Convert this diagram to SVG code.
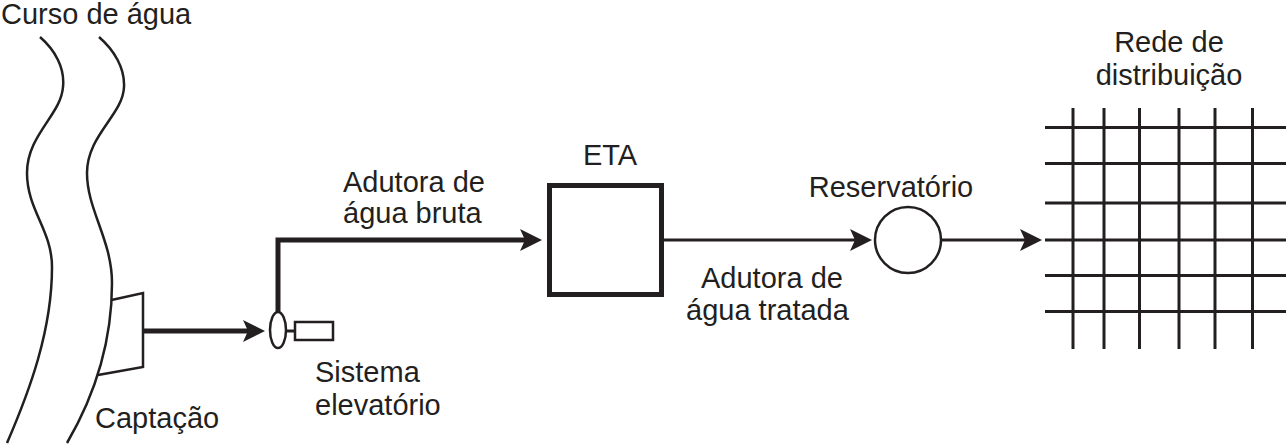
<svg xmlns="http://www.w3.org/2000/svg" width="1287" height="445" viewBox="0 0 1287 445">
<style>
text{font-family:"Liberation Sans",Arial,sans-serif;font-size:29px;fill:#231f20}
.ln{fill:none;stroke:#231f20;stroke-width:2.5}
.thick{fill:none;stroke:#231f20;stroke-width:5}
.thin{fill:none;stroke:#231f20;stroke-width:3}
.grid line{stroke:#231f20;stroke-width:3}
</style>
<defs>
<marker id="ah" markerUnits="userSpaceOnUse" markerWidth="22" markerHeight="22" refX="6" refY="11" orient="auto" viewBox="0 0 22 22">
<path d="M0,0 L22,11 L0,22 L5,11 z" fill="#231f20"/>
</marker>
</defs>
<rect width="1287" height="445" fill="#fff"/>
<g id="curso">
<path class="ln" d="M40,37 C55,50 65,68 63,87 C61,115 27,135 27,173 C27,210 52,230 52,267 C52,330 30,390 7,443"/>
<path class="ln" d="M99,37 C114,50 125,68 124,87 C123,115 87,135 87,173 C87,210 112,240 112,283 C112,340 95,395 67,443"/>
<text x="1" y="24">Curso de água</text>
</g>
<g id="captacao">
<polyline class="ln" points="111.5,300 143,293 143,367 98,375"/>
<text x="95" y="428">Captação</text>
</g>
<g id="elevatorio">
<ellipse class="ln" cx="278" cy="330" rx="8" ry="18" fill="#fff"/>
<line class="thin" x1="286" y1="331" x2="295" y2="331"/>
<rect class="ln" x="295" y="322" width="38" height="18" fill="#fff"/>
<text x="315" y="382">Sistema</text>
<text x="315" y="415">elevatório</text>
</g>
<g id="eta">
<rect x="549.5" y="185.5" width="112" height="109" fill="#fff" stroke="#231f20" stroke-width="5"/>
<text x="610" y="165" text-anchor="middle">ETA</text>
</g>
<g id="reservatorio">
<circle class="ln" cx="908" cy="240" r="33" fill="#fff"/>
<text x="891" y="197" text-anchor="middle">Reservatório</text>
</g>
<g id="rede">
<g class="grid">
<line x1="1045" y1="127.5" x2="1286" y2="127.5"/>
<line x1="1045" y1="163.5" x2="1286" y2="163.5"/>
<line x1="1045" y1="203" x2="1286" y2="203"/>
<line x1="1045" y1="240" x2="1286" y2="240"/>
<line x1="1045" y1="275.5" x2="1286" y2="275.5"/>
<line x1="1045" y1="311.5" x2="1286" y2="311.5"/>
<line x1="1073" y1="108" x2="1073" y2="349"/>
<line x1="1104" y1="108" x2="1104" y2="349"/>
<line x1="1139.5" y1="108" x2="1139.5" y2="349"/>
<line x1="1179" y1="108" x2="1179" y2="349"/>
<line x1="1215" y1="108" x2="1215" y2="349"/>
<line x1="1252.5" y1="108" x2="1252.5" y2="349"/>
</g>
<text x="1169" y="52" text-anchor="middle">Rede de</text>
<text x="1169" y="85" text-anchor="middle">distribuição</text>
</g>
<g id="connectors">
<path class="thick" d="M143,331 H249" marker-end="url(#ah)"/>
<path class="thick" d="M278,312 V240 H526" stroke-linejoin="miter" marker-end="url(#ah)"/>
<path class="thin" d="M664,240 H856" marker-end="url(#ah)"/>
<path class="thin" d="M941,240 H1026" marker-end="url(#ah)"/>
<text x="343" y="192">Adutora de</text>
<text x="343" y="223">água bruta</text>
<text x="701" y="288">Adutora de</text>
<text x="686" y="320">água tratada</text>
</g>
</svg>
